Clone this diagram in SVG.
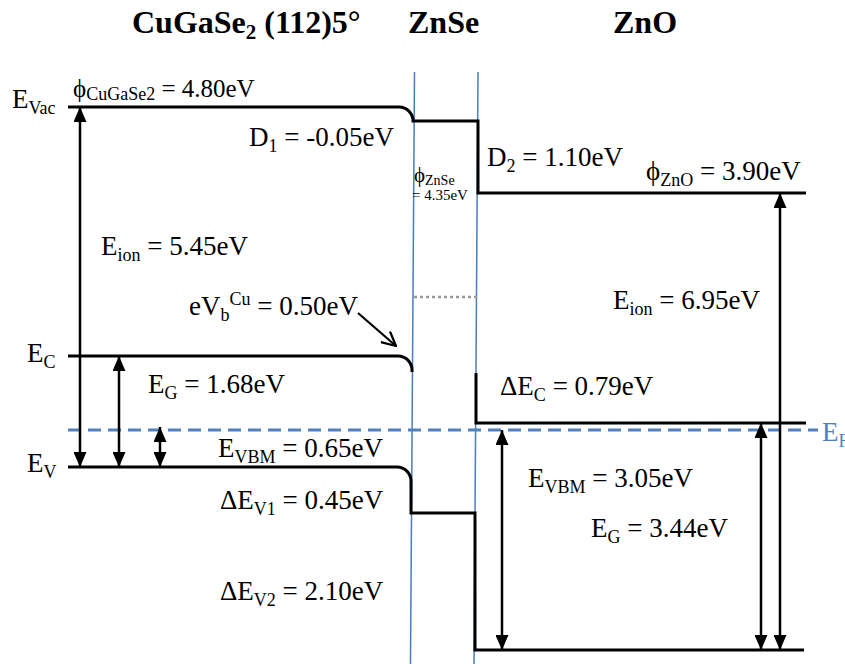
<svg xmlns="http://www.w3.org/2000/svg" width="845" height="664" viewBox="0 0 845 664" font-family="'Liberation Serif', 'Times New Roman', serif">
<style>
text{font-family:"Liberation Serif","Times New Roman",serif;font-size:27px;fill:#000}
.title{font-weight:bold;font-size:32px}
.sub{font-size:18px}
.lvl{fill:none;stroke:#000;stroke-width:3}
.arr{fill:none;stroke:#000;stroke-width:2.5;marker-start:url(#ah);marker-end:url(#ah)}
.if{fill:none;stroke:#4a7ebb;stroke-width:1.5}
.blue{fill:#4f81bd}
</style>
<defs>
<marker id="ah" viewBox="0 0 15 13" refX="15" refY="6.5" markerWidth="15" markerHeight="13" orient="auto-start-reverse" markerUnits="userSpaceOnUse"><path d="M0,0 L15,6.5 L0,13 z" fill="#000"/></marker>
<marker id="oh" viewBox="0 0 16 16" refX="15" refY="8" markerWidth="16" markerHeight="16" orient="auto" markerUnits="userSpaceOnUse"><path d="M1,1 L15,8 L1,15" fill="none" stroke="#000" stroke-width="2.2"/></marker>
</defs>
<g id="titles">
<text class="title" x="132" y="33">CuGaSe<tspan class="sub" style="font-size:21px" dy="6">2</tspan><tspan dy="-6"> (112)5°</tspan></text>
<text class="title" x="408" y="33">ZnSe</text>
<text class="title" x="613" y="33">ZnO</text>
</g>
<g id="interfaces">
<path class="if" d="M414.5,72 L410.5,664"/>
<path class="if" d="M478,72 L474,664"/>
</g>
<g id="fermi">
<path d="M68,430 H818" fill="none" stroke="#4f81bd" stroke-width="3" stroke-dasharray="13 7"/>
<text class="blue" x="822" y="441">E<tspan class="sub" dy="6">F</tspan></text>
</g>
<g id="levels">
<path id="vacuum" class="lvl" d="M68,107 H399 A14,14 0 0 1 413,121 H478 V193 H806"/>
<path id="cb-cgs" class="lvl" d="M68,356 H398 A14,14 0 0 1 412,370 V372"/>
<path id="vb" class="lvl" d="M68,467 H397 A14,14 0 0 1 411,481 V513 H475 V650 H804"/>
<path id="cb-zno" class="lvl" d="M476,373 V423 H806"/>
<path id="znse-cb" d="M414,297 H480" fill="none" stroke="#999" stroke-width="2.5" stroke-dasharray="3 3"/>
</g>
<g id="connectors">
<path class="arr" d="M80,107 V467"/>
<path class="arr" d="M119,356 V467"/>
<path class="arr" d="M160,427 V467"/>
<path class="arr" d="M780,193 V650"/>
<path class="arr" d="M761,423 V650"/>
<path class="arr" d="M502,430 V650"/>
<path d="M358,313 L396,346" fill="none" stroke="#000" stroke-width="2.2" marker-end="url(#oh)"/>
</g>
<g id="labels">
<text x="12" y="108">E<tspan class="sub" dy="6">Vac</tspan></text>
<text x="73" y="97" style="font-size:25px">ϕ<tspan class="sub" dy="3">CuGaSe2</tspan><tspan dy="-3"> = 4.80eV</tspan></text>
<text x="249" y="146">D<tspan class="sub" dy="6">1</tspan><tspan dy="-6"> = -0.05eV</tspan></text>
<text x="414" y="182" style="font-size:21px">ϕ<tspan style="font-size:14px" dy="3">ZnSe</tspan></text>
<text x="412" y="200" style="font-size:15px">= 4.35eV</text>
<text x="487" y="166">D<tspan class="sub" dy="6">2</tspan><tspan dy="-6"> = 1.10eV</tspan></text>
<text x="646" y="180">ϕ<tspan class="sub" dy="6">ZnO</tspan><tspan dy="-6"> = 3.90eV</tspan></text>
<text x="101" y="255">E<tspan class="sub" dy="6">ion</tspan><tspan dy="-6"> = 5.45eV</tspan></text>
<text x="189" y="315">eV<tspan class="sub" dy="6">b</tspan><tspan class="sub" dy="-16">Cu</tspan><tspan dy="10"> = 0.50eV</tspan></text>
<text x="613" y="309">E<tspan class="sub" dy="6">ion</tspan><tspan dy="-6"> = 6.95eV</tspan></text>
<text x="27" y="362">E<tspan class="sub" dy="6">C</tspan></text>
<text x="148" y="393">E<tspan class="sub" dy="6">G</tspan><tspan dy="-6"> = 1.68eV</tspan></text>
<text x="500" y="395">ΔE<tspan class="sub" dy="6">C</tspan><tspan dy="-6"> = 0.79eV</tspan></text>
<text x="27" y="472">E<tspan class="sub" dy="6">V</tspan></text>
<text x="218" y="457">E<tspan class="sub" dy="6">VBM</tspan><tspan dy="-6"> = 0.65eV</tspan></text>
<text x="528" y="487">E<tspan class="sub" dy="6">VBM</tspan><tspan dy="-6"> = 3.05eV</tspan></text>
<text x="220" y="509">ΔE<tspan class="sub" dy="6">V1</tspan><tspan dy="-6"> = 0.45eV</tspan></text>
<text x="591" y="537">E<tspan class="sub" dy="6">G</tspan><tspan dy="-6"> = 3.44eV</tspan></text>
<text x="220" y="600">ΔE<tspan class="sub" dy="6">V2</tspan><tspan dy="-6"> = 2.10eV</tspan></text>
</g>
</svg>
